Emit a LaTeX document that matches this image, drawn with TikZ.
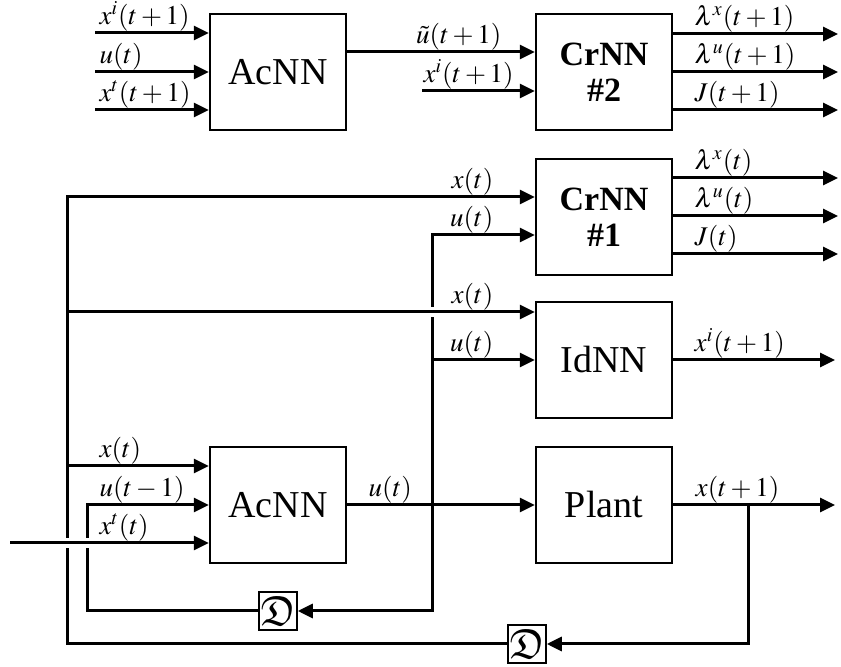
\documentclass[tikz,border=0pt]{standalone}
\usepackage{mathptmx}
\usepackage{amssymb}
\usepackage[no-math]{fontspec}
\setmainfont{Liberation Serif}
\usetikzlibrary{arrows.meta, calc}
\tikzset{
  blk/.style={draw, line width=1.2pt, minimum width=68pt, minimum height=58pt, inner sep=0pt, font=\fontsize{19}{22}\selectfont},
  crit/.style={blk, align=center, font=\fontsize{17}{18}\selectfont\bfseries},
  dly/.style={draw, line width=0.8pt, minimum size=19pt, inner sep=0pt, font=\fontsize{21}{21}\selectfont},
  sig/.style={line width=1.5pt},
  arr/.style={sig, -{Triangle[length=7.5pt, width=7pt]}},
  lbl/.style={font=\fontsize{13.5}{14}\selectfont, inner sep=0pt},
  hop/.style={white, line width=5pt},
}
\begin{document}
\begin{tikzpicture}[x=0.5pt, y=-0.5pt]
  \useasboundingbox (0,0) rectangle (841,667);

  % blocks
  \node[blk] (acA) at (278,72) {AcNN};
  \node[crit] (cr2) at (604,72) {CrNN\\\#2};
  \node[crit] (cr1) at (604,217) {CrNN\\\#1};
  \node[blk] (id) at (604,360) {IdNN};
  \node[blk] (acB) at (278,505) {AcNN};
  \node[blk] (plant) at (604,505) {Plant};
  \node[dly] (dA) at (278,611) {$\mathfrak{D}$};
  \node[dly] (dB) at (527,644) {$\mathfrak{D}$};

  % free ends and bus points
  \coordinate (inA) at (95,0);
  \coordinate (inB) at (422,91);
  \coordinate (rim) at (838,0);
  \coordinate (pend) at (835,505);
  \coordinate (xtop) at (67,197);
  \coordinate (ubus) at (432,235);
  \coordinate (ufb) at (87,505);
  \coordinate (xtin) at (10,543);
  \coordinate (xsplit) at (748,505);

  % top row: next-step critic
  \foreach \y/\t in {33/{x^i(t+1)}, 72/{u(t)}, 110/{x^t(t+1)}}
    \draw[arr] (inA |- 0,\y) -- (acA.west |- 0,\y) node[lbl, pos=0, anchor=south west, xshift=1.5pt] {$\t$};
  \draw[arr] (acA.east |- 0,52) -- (cr2.west |- 0,52) node[lbl, pos=1, anchor=south east, xshift=-16pt] {$\tilde{u}(t+1)$};
  \draw[arr] (inB) -- (inB -| cr2.west) node[lbl, pos=0, anchor=south west] {$x^i(t+1)$};
  \foreach \y/\t in {34/{\lambda^x(t+1)}, 72/{\lambda^u(t+1)}, 110/{J(t+1)}}
    \draw[arr] (cr2.east |- 0,\y) -- (rim |- 0,\y) node[lbl, pos=0, anchor=south west, xshift=10pt] {$\t$};
  \foreach \y/\t in {178/{\lambda^x(t)}, 216/{\lambda^u(t)}, 254/{J(t)}}
    \draw[arr] (cr1.east |- 0,\y) -- (rim |- 0,\y) node[lbl, pos=0, anchor=south west, xshift=10pt] {$\t$};

  % control u(t) and its bus
  \draw[arr] (acB.east) -- (plant.west) node[lbl, pos=0, anchor=south west, xshift=10pt] {$u(t)$};
  \draw[arr] (ubus |- acB.east) |- (dA.east);
  \draw[arr] (ubus |- acB.east) -- (ubus) -- (ubus -| cr1.west) node[lbl, pos=1, anchor=south east, xshift=-20pt] {$u(t)$};
  \draw[arr] (ubus |- id.west) -- (id.west) node[lbl, pos=1, anchor=south east, xshift=-20pt] {$u(t)$};

  % state x(t) bus
  \draw[arr] (dB.west) -| (xtop) -- (xtop -| cr1.west) node[lbl, pos=1, anchor=south east, xshift=-20pt] {$x(t)$};
  \draw[hop] ($(ubus |- 0,312)+(-8,0)$) -- ($(ubus |- 0,312)+(8,0)$);
  \draw[arr] (xtop |- 0,312) -- (id.west |- 0,312) node[lbl, pos=1, anchor=south east, xshift=-20pt] {$x(t)$};
  \draw[arr] (xtop |- 0,466) -- (acB.west |- 0,466) node[lbl, pos=0, anchor=south west, xshift=15.5pt] {$x(t)$};

  % delayed control
  \draw[arr] (dA.west) -| (ufb) -- (acB.west) node[lbl, pos=0, anchor=south west, xshift=5.5pt] {$u(t-1)$};

  % target input
  \draw[hop] ($(xtin)+(50,0)$) -- ($(xtin)+(84,0)$);
  \draw[arr] (xtin) -- (xtin -| acB.west) node[lbl, pos=0, anchor=south west, xshift=44pt] {$x^t(t)$};

  % outputs of model and plant
  \draw[arr] (id.east) -- (pend |- id.east) node[lbl, pos=0, anchor=south west, xshift=10pt] {$x^i(t+1)$};
  \draw[arr] (plant.east) -- (pend) node[lbl, pos=0, anchor=south west, xshift=10.5pt] {$x(t+1)$};
  \draw[arr] (xsplit) |- (dB.east);
\end{tikzpicture}
\end{document}
